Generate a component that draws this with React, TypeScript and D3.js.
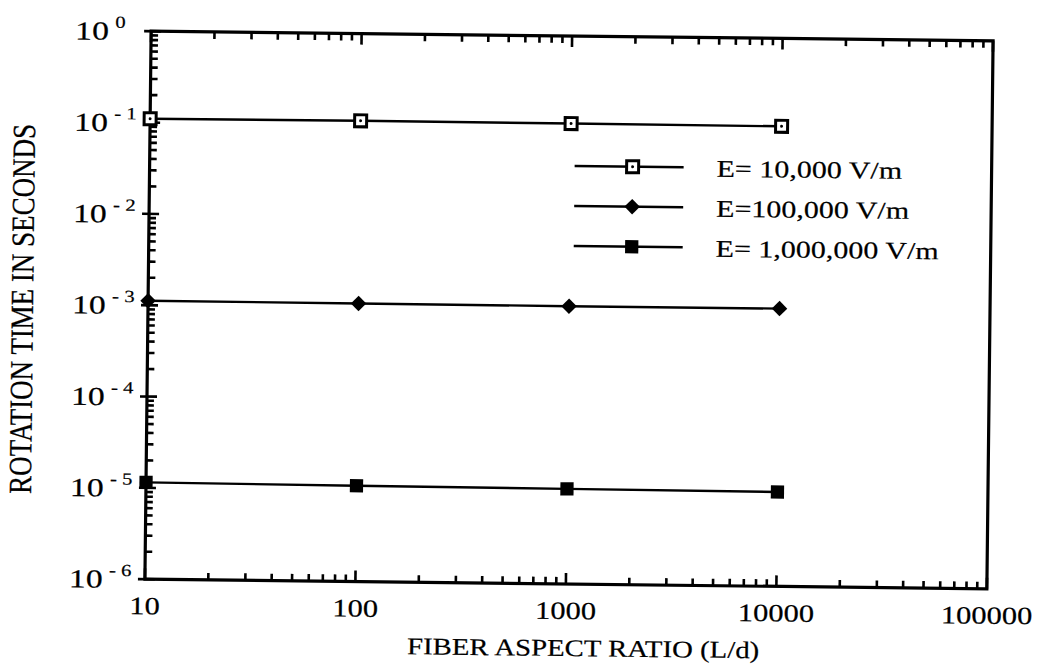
import React, { useEffect, useRef } from "react";
import * as d3 from "d3";

// fiber aspect ratio (L/d) where each run was computed
const aspectRatios = [10, 100, 1000, 10000];

// rotation time in seconds, one array per field strength
const field10k = [0.11, 0.111, 0.11, 0.109];
const field100k = [1.12e-3, 1.11e-3, 1.1e-3, 1.1e-3];
const field1M = [1.15e-5, 1.12e-5, 1.1e-5, 1.08e-5];

const seriesLabels = ["E= 10,000 V/m", "E=100,000 V/m", "E= 1,000,000 V/m"];
const seriesMarkers = ["openSquare", "diamond", "square"];

const xTickValues = [10, 100, 1000, 10000, 100000];
const yExponents = [0, -1, -2, -3, -4, -5, -6];

const FONT = "'Liberation Serif', 'Times New Roman', serif";
const STRETCH = 1.22;

function drawMarker(g: any, kind: string, cx: number, cy: number) {
  if (kind === "openSquare") {
    g.append("rect")
      .attr("x", cx - 6)
      .attr("y", cy - 6)
      .attr("width", 12)
      .attr("height", 12)
      .attr("fill", "#fff")
      .attr("stroke", "#000")
      .attr("stroke-width", 3);
    g.append("circle").attr("cx", cx).attr("cy", cy).attr("r", 1.5).attr("fill", "#000");
  } else if (kind === "diamond") {
    g.append("path")
      .attr("d", d3.symbol(d3.symbolSquare, 120)())
      .attr("transform", `translate(${cx},${cy}) rotate(45)`)
      .attr("fill", "#000");
  } else {
    g.append("path")
      .attr("d", d3.symbol(d3.symbolSquare, 175)())
      .attr("transform", `translate(${cx},${cy})`)
      .attr("fill", "#000");
  }
}

// scanned look: text a touch heavier
function ink(t: any) {
  return t.attr("font-family", FONT).attr("fill", "#000").attr("stroke", "#000").attr("stroke-width", 0.2);
}

function Chart() {
  const canvas = useRef<SVGSVGElement>(null);

  useEffect(() => {
    const width = 1041;
    const height = 668;
    const margin = { top: 36, left: 148, bottom: 84, right: 51 };
    const iwidth = width - margin.left - margin.right;
    const iheight = height - margin.top - margin.bottom;

    const svg = d3.select(canvas.current).attr("width", width).attr("height", height);
    svg.selectAll("*").remove();

    // the original page was scanned slightly askew
    const page = svg.append("g").attr("transform", "rotate(0.65,569,310)");
    const g = page.append("g").attr("transform", `translate(${margin.left},${margin.top})`);

    const x = d3.scaleLog().domain([10, 100000]).range([0, iwidth]);
    const y = d3.scaleLog().domain([1e-6, 1]).range([iheight, 0]);

    // ticks: majors and log minors
    const xMinor: number[] = [];
    for (let p = 1; p < 5; p++) for (let k = 2; k <= 9; k++) xMinor.push(k * Math.pow(10, p));
    const yMinor: number[] = [];
    for (let p = -6; p < 0; p++) for (let k = 2; k <= 9; k++) yMinor.push(k * Math.pow(10, p));

    const ticks = g.append("g").attr("stroke", "#000").attr("stroke-width", 2.6);
    xMinor.forEach((v) => {
      ticks.append("line").attr("x1", x(v)).attr("x2", x(v)).attr("y1", iheight).attr("y2", iheight - 7);
      ticks.append("line").attr("x1", x(v)).attr("x2", x(v)).attr("y1", 0).attr("y2", 7);
    });
    xTickValues.forEach((v) => {
      ticks.append("line").attr("x1", x(v)).attr("x2", x(v)).attr("y1", iheight).attr("y2", iheight - 11);
      ticks.append("line").attr("x1", x(v)).attr("x2", x(v)).attr("y1", 0).attr("y2", 11);
    });
    yMinor.forEach((v) => {
      ticks.append("line").attr("x1", 0).attr("x2", 7).attr("y1", y(v)).attr("y2", y(v));
    });
    yExponents.forEach((e) => {
      const v = Math.pow(10, e);
      ticks.append("line").attr("x1", -7).attr("x2", 10).attr("y1", y(v)).attr("y2", y(v));
    });

    // frame
    g.append("rect")
      .attr("width", iwidth)
      .attr("height", iheight)
      .attr("fill", "none")
      .attr("stroke", "#000")
      .attr("stroke-width", 3.2);

    // x tick labels
    xTickValues.forEach((v) => {
      ink(g.append("text"))
        .attr("transform", `translate(${x(v)},${iheight + 35}) scale(${STRETCH},1)`)
        .attr("text-anchor", "middle")
        .attr("font-size", 25)
        .text(String(v));
    });

    // y tick labels: 10 with superscript exponent
    yExponents.forEach((e) => {
      const v = Math.pow(10, e);
      const lab = g.append("g").attr("transform", `translate(-76,${y(v) + 9})`);
      ink(lab.append("text"))
        .attr("transform", `scale(1.3,1)`)
        .attr("font-size", 26)
        .text("10");
      ink(lab.append("text"))
        .attr("transform", `translate(40,-12) scale(${STRETCH},1)`)
        .attr("font-size", 17)
        .attr("xml:space", "preserve")
        .text(e === 0 ? "0" : `- ${-e}`);
    });

    // series lines and markers
    const allSeries = [field10k, field100k, field1M];
    const line = d3.line<number>().x((_, i) => x(aspectRatios[i])).y((d) => y(d));
    allSeries.forEach((vals, si) => {
      g.append("path")
        .attr("d", line(vals))
        .attr("fill", "none")
        .attr("stroke", "#000")
        .attr("stroke-width", 2.4);
      vals.forEach((d, i) => drawMarker(g, seriesMarkers[si], x(aspectRatios[i]), y(d)));
    });

    // legend
    const legend = page.append("g").attr("transform", "translate(573,166)");
    seriesLabels.forEach((lab, i) => {
      const row = legend.append("g").attr("transform", `translate(0,${i * 40})`);
      row.append("line").attr("x1", 0).attr("x2", 109).attr("y1", 0).attr("y2", 0)
        .attr("stroke", "#000").attr("stroke-width", 2.4);
      drawMarker(row, seriesMarkers[i], 58, 0);
      ink(row.append("text"))
        .attr("transform", `translate(142,9) scale(1.25,1)`)
        .attr("font-size", 24)
        .attr("xml:space", "preserve")
        .text(lab);
    });

    // axis titles
    ink(page.append("text"))
      .attr("transform", `translate(${margin.left + iwidth / 2 + 18},656) scale(1.2,1)`)
      .attr("text-anchor", "middle")
      .attr("font-size", 24)
      .text("FIBER ASPECT RATIO (L/d)");

    ink(page.append("text"))
      .attr("transform", "translate(33,315) rotate(-90) scale(1,1.2)")
      .attr("text-anchor", "middle")
      .attr("font-size", 27)
      .text("ROTATION TIME IN SECONDS");
  }, []);

  return <svg ref={canvas} style={{ position: "absolute", left: 0, top: 0, background: "#fff" }}></svg>;
}

export default function App() {
  return (
    <div>
      <Chart />
    </div>
  );
}
